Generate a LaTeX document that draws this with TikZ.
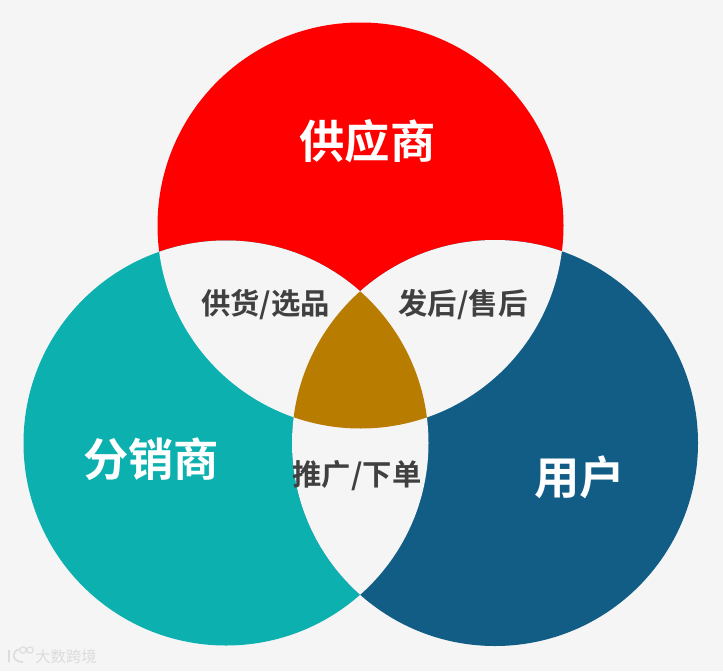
\documentclass[tikz,border=0pt]{standalone}
\usepackage{fontspec}
\setmainfont{Noto Sans CJK SC}[BoldFont={Noto Sans CJK SC Bold}]
\newfontfamily\cjkb{Noto Sans CJK SC Bold}
\definecolor{bgc}{HTML}{F5F5F5}
\definecolor{redc}{HTML}{FF0000}
\definecolor{tealc}{HTML}{0BB0AF}
\definecolor{bluec}{HTML}{125D86}
\definecolor{brownc}{HTML}{B87D00}
\definecolor{txtc}{HTML}{404040}
\definecolor{wmc}{HTML}{DCDCDC}
\tikzset{
  bigl/.style={text=white,font=\cjkb\fontsize{34}{38}\selectfont,inner sep=0pt},
  smalll/.style={text=txtc,font=\cjkb\fontsize{22}{26}\selectfont,inner sep=0pt},
  wml/.style={text=wmc,font=\fontsize{11.5}{13}\selectfont,inner sep=0pt}
}
\begin{document}
\begin{tikzpicture}[x=0.75pt,y=-0.75pt]
\fill[bgc] (0,0) rectangle (723,671);
\useasboundingbox (0,0) rectangle (723,671);
\def\topc{(360.5,225.5) circle[radius=203*0.75pt]}
\def\leftc{(226,443) circle[radius=202.5*0.75pt]}
\def\rightc{(495,443) circle[radius=203*0.75pt]}
\fill[redc] \topc;
\fill[tealc] \leftc;
\fill[bluec] \rightc;
\begin{scope}\clip \topc; \fill[bgc] \leftc; \fill[bgc] \rightc; \end{scope}
\begin{scope}\clip \leftc; \fill[bgc] \rightc; \end{scope}
\begin{scope}\clip \topc; \clip \leftc; \fill[brownc] \rightc; \end{scope}
\node[bigl] (sup) at (367.5,141) {供应商};
\node[bigl] (dist) at (151,459) {分销商};
\node[bigl] (user) at (579.5,477) {用户};
\node[smalll] (a) at (265.5,305) {供货/选品};
\node[smalll] (b) at (463,305) {发后/售后};
\node[smalll] (c) at (357,476) {推广/下单};
\node[wml] (wm) at (66,657) {大数跨境};
\draw[wmc,line width=1.2pt] (9,650) -- (9,662) (19,649) .. controls (11,652) and (12,662) .. (23,662);
\draw[wmc,line width=0.8pt] (23,650) circle[radius=3.2*0.75pt] (30,650) circle[radius=3.2*0.75pt];
\end{tikzpicture}
\end{document}
